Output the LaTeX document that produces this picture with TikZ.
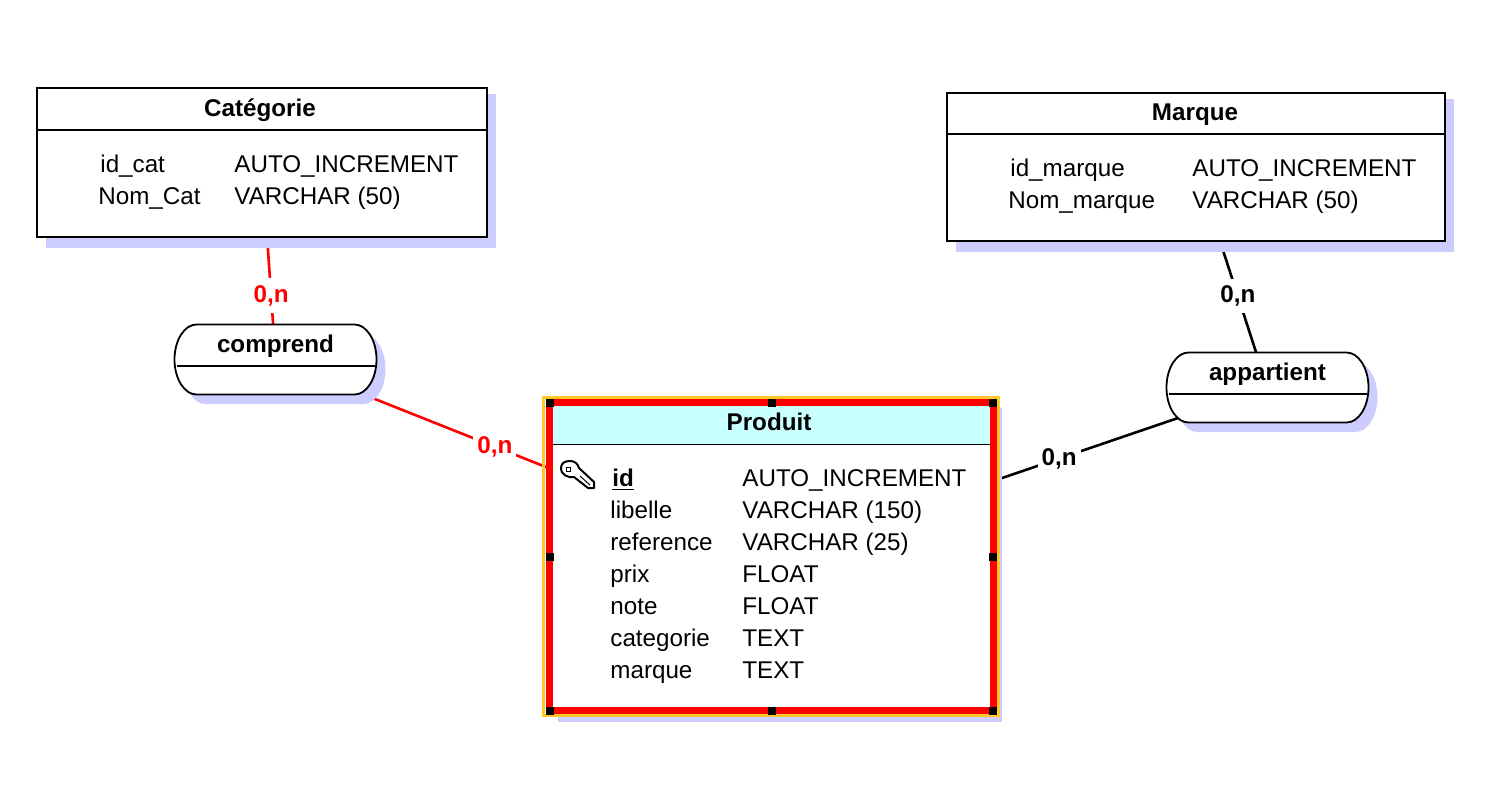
\documentclass[tikz,border=0pt]{standalone}
\usepackage{fontspec}
\setmainfont{Liberation Sans}
\usetikzlibrary{backgrounds}
\definecolor{ombre}{RGB}{204,204,255}
\definecolor{bleuclair}{RGB}{200,255,255}
\definecolor{selection}{RGB}{255,200,40}
\tikzset{
	ombree/.style={fill=ombre,inner sep=0pt,outer sep=0pt},
	entite/.style={draw,fill=white,line width=0.9pt,outer sep=0pt},
	titre/.style={anchor=base,font=\bfseries,inner sep=0pt},
	attribut/.style={anchor=base west,inner sep=0pt},
	lien/.style={line width=1.3pt},
	card/.style={fill=white,font=\bfseries,inner xsep=2pt,inner ysep=3.5pt},
	poignee/.style={fill=black,inner sep=0pt,minimum size=4pt},
}
% contour d'une association
\newcommand{\contourbulle}{(-79,-35) -- (79,-35) .. controls (91.1,-35) and (101,-19.3) .. (101,0)
	.. controls (101,19.3) and (91.1,35) .. (79,35) -- (-79,35)
	.. controls (-91.1,35) and (-101,19.3) .. (-101,0)
	.. controls (-101,-19.3) and (-91.1,-35) .. (-79,-35) -- cycle}
\begin{document}
\begin{tikzpicture}[x=0.5pt,y=-0.5pt]
\fontsize{12.1}{14.5}\selectfont
\useasboundingbox (0,0) rectangle (1496,804);

%entites
\node[ombree,minimum width=225pt,minimum height=77pt] (categorie-o) at (271,171) {};
\node[entite,minimum width=225pt,minimum height=74.5pt] (categorie) at (262,162.5) {};
\node[titre] (categorie-t) at (260,116) {Catégorie};
\draw[line width=0.9pt] (categorie.west |- 0,130) -- (categorie.east |- 0,130);
\node[attribut] (idcat) at (100,172) {id\_cat};
\node[attribut] (typeidcat) at (234,172) {AUTO\_INCREMENT};
\node[attribut] (nomcat) at (98,204) {Nom\_Cat};
\node[attribut] (typenomcat) at (234,204) {VARCHAR (50)};

\node[ombree,minimum width=249pt,minimum height=76.5pt] (marque-o) at (1205,175.5) {};
\node[entite,minimum width=249pt,minimum height=74pt] (marque) at (1196,167) {};
\node[titre] (marque-t) at (1195,120) {Marque};
\draw[line width=0.9pt] (marque.west |- 0,134) -- (marque.east |- 0,134);
\node[attribut] (idmarque) at (1010,176) {id\_marque};
\node[attribut] (typeidmarque) at (1192,176) {AUTO\_INCREMENT};
\node[attribut] (nommarque) at (1008,208) {Nom\_marque};
\node[attribut] (typenommarque) at (1192,208) {VARCHAR (50)};

%associations
\foreach \nom/\x/\y in {comprend/275.5/359.5,appartient/1267.5/387.5}{
	\begin{scope}[shift={(\x,\y)}]
		\fill[ombre,shift={(9,9.5)}] \contourbulle;
		\draw[fill=white,line width=0.9pt] \contourbulle;
		\draw[line width=0.9pt] (-99,6.5) -- (99,6.5);
		\node[minimum width=101pt,minimum height=35pt,outer sep=0pt] (\nom) at (0,0) {};
		\node[titre] (\nom-t) at (0,-7.5) {\nom};
	\end{scope}
}

%produit, selectionne
\node[ombree,minimum width=222pt,minimum height=157pt] (produit-o) at (780,565) {};
\node[entite,draw=red,line width=3.7pt,minimum width=221.75pt,minimum height=154pt] (produit) at (771.5,556.5) {};
\node[draw=selection,line width=1.4pt,minimum width=227.4pt,minimum height=159pt,inner sep=0pt] (cadre) at (771,556.6) {};
\node[fill=bleuclair,inner sep=0pt,minimum width=218pt,minimum height=19pt] (entete) at (771.5,425) {};
\node[titre] (produit-t) at (769,430) {Produit};
\draw[line width=0.9pt] (entete.south west) -- (entete.south east);
\node[attribut] (nomid) at (612,486) {\underline{\textbf{id}}};
\node[attribut] (typeid) at (742,486) {AUTO\_INCREMENT};
\foreach \i/\nomattr/\typeattr/\y in {1/libelle/VARCHAR (150)/518,2/reference/VARCHAR (25)/550,3/prix/FLOAT/582,
	4/note/FLOAT/614,5/categorie/TEXT/646,6/marque/TEXT/678}{
	\node[attribut] (nom\i) at (610,\y) {\nomattr};
	\node[attribut] (type\i) at (742,\y) {\typeattr};
}
\foreach \a/\i in {north west/1,north/2,north east/3,east/4,south east/5,south/6,south west/7,west/8}{
	\node[poignee] (poignee\i) at (produit.\a) {};
}

%cle
\draw[fill=white,line width=1pt,line join=round] (561,468) .. controls (561,463) and (565,461) .. (570,461)
	.. controls (575,461) and (578,464) .. (579,468) -- (594,482) -- (594,488) -- (588,488) -- (574,477)
	.. controls (568,478) and (561,475) .. (561,468) -- cycle;
\draw[line width=0.5pt] (566.5,467) rectangle (570.5,471);
\draw[line width=0.5pt] (580,476) -- (590,485);

%liens
\begin{scope}[on background layer]
	\draw[lien,red] (categorie) -- (comprend.center) node[card,pos=0.48] (card1) {0,n};
	\draw[lien,red] (comprend.center) -- (produit) node[card,pos=0.8] (card2) {0,n};
	\draw[lien] (marque) -- (appartient.center) node[card,pos=0.375] (card3) {0,n};
	\draw[lien] (appartient.center) -- (produit) node[card,pos=0.76] (card4) {0,n};
\end{scope}
\end{tikzpicture}
\end{document}
